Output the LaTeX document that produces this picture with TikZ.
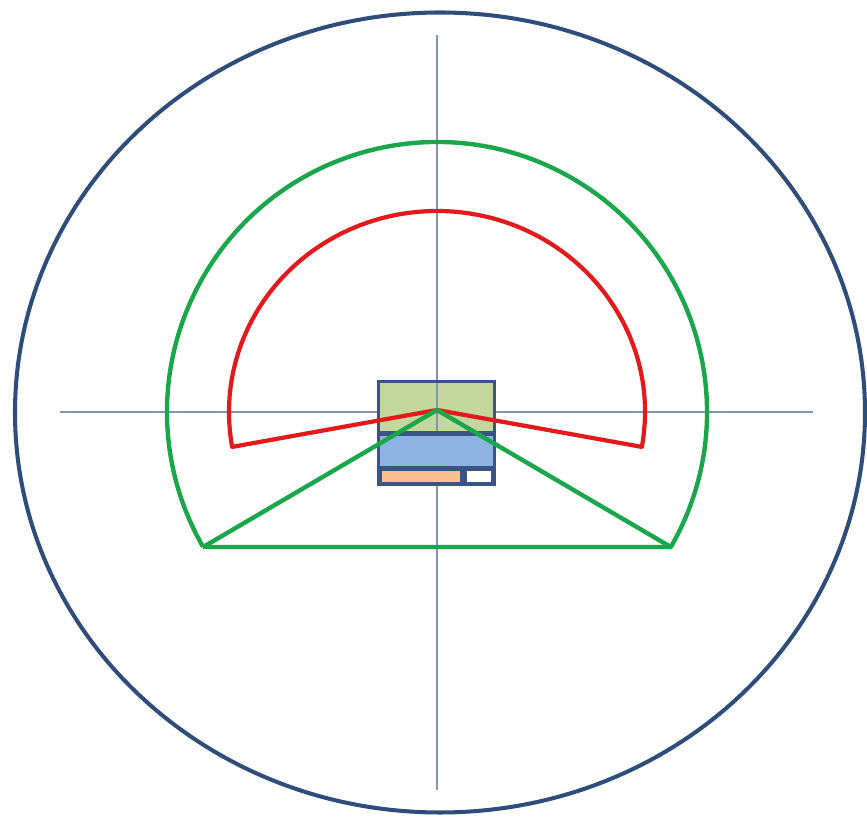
\documentclass[tikz,border=0pt]{standalone}
\usepackage{tikz}
\usetikzlibrary{arrows.meta, calc}

\definecolor{ringblue}{HTML}{2E4D7B}
\definecolor{axisgray}{HTML}{7F97B2}
\definecolor{zonegreen}{HTML}{1AA64A}
\definecolor{zonered}{HTML}{E3191C}
\definecolor{boxdark}{HTML}{3B5486}
\definecolor{boxgreen}{HTML}{C3D69B}
\definecolor{boxblue}{HTML}{8DB3E2}
\definecolor{boxorange}{HTML}{FAC090}

\begin{document}
\begin{tikzpicture}[x=0.02cm, y=0.02cm]
    % параметры
    \def\Rg{270}    % радиус зелёной зоны
    \def\Rrx{208}   % радиус красной зоны по горизонтали
    \def\Rry{201}   % радиус красной зоны по вертикали
    \def\Ag{30}     % угол зелёной зоны ниже оси
    \def\Ar{10}     % угол красной зоны ниже оси

    \useasboundingbox (0,0) rectangle (867,825);

    % центр и вершина
    \coordinate (O) at (437,413);
    \coordinate (apex) at (437,415);

    % внешний круг
    \draw[ringblue, line width=2.3pt] (440,412.5) ellipse [x radius=425, y radius=400];

    % оси
    \draw[axisgray, line width=1.1pt] (60,413) -- (813,413);
    \draw[axisgray, line width=1.1pt] (437,35) -- (437,790);

    % прибор
    \fill[boxdark] (377,339) rectangle (496,445);
    \fill[boxgreen] (380,394) rectangle (493,442);
    \fill[boxblue] (380,359) rectangle (493,389);
    \fill[boxorange] (382,343) rectangle (460,354);
    \fill[white] (467,343) rectangle (491,354);
    \draw[axisgray, line width=1.1pt] (437,394) -- (437,442);

    % красная зона
    \coordinate (Rright) at ($(O)+({\Rrx*cos(\Ar)},{-\Rry*sin(\Ar)})$);
    \coordinate (Rleft) at ($(O)+({-\Rrx*cos(\Ar)},{-\Rry*sin(\Ar)})$);
    \draw[zonered, line width=2.4pt, line join=round]
        (apex) -- (Rright) arc[start angle=-\Ar, end angle=180+\Ar, x radius=\Rrx, y radius=\Rry] -- (apex);

    % зелёная зона
    \coordinate (Gright) at ($(O)+(-\Ag:\Rg)$);
    \coordinate (Gleft) at ($(O)+(180+\Ag:\Rg)$);
    \draw[zonegreen, line width=2.5pt, line join=round]
        (Gleft) -- (Gright) arc[start angle=-\Ag, end angle=180+\Ag, radius=\Rg];
    \draw[zonegreen, line width=2.5pt, line join=round] (Gleft) -- (apex) -- (Gright);
\end{tikzpicture}
\end{document}
